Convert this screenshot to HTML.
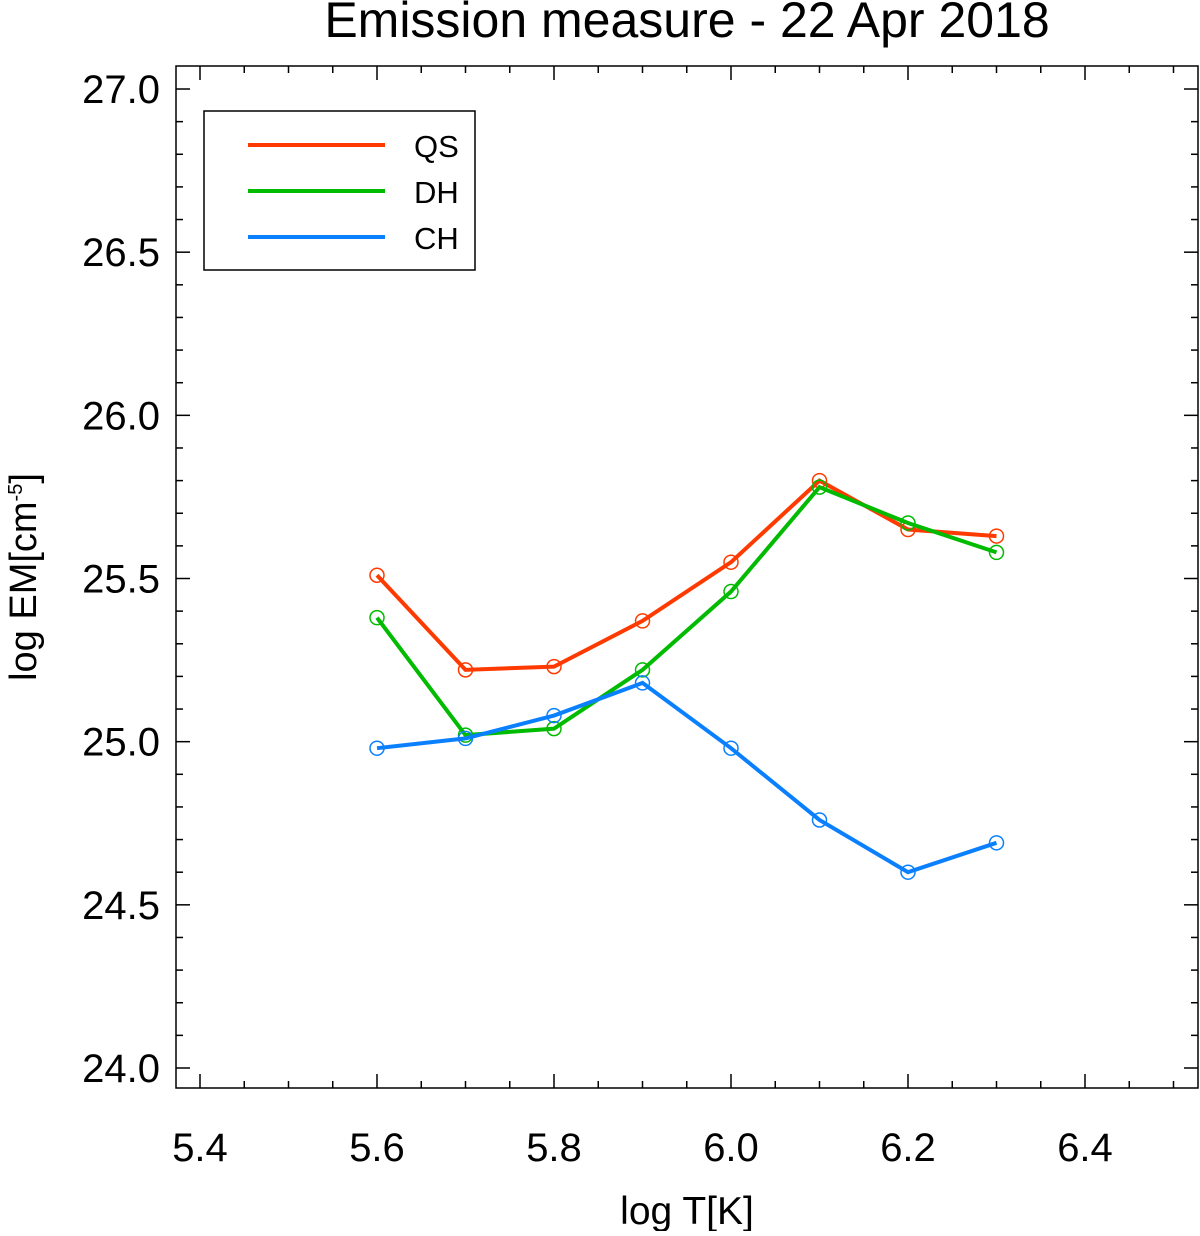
<!DOCTYPE html>
<html><head><meta charset="utf-8"><style>
body{margin:0;background:#fff}
text{font-family:"Liberation Sans",sans-serif;fill:#000}
</style></head><body>
<svg id="chart" width="1200" height="1231" xmlns="http://www.w3.org/2000/svg">
<text x="687" y="37" font-size="50" text-anchor="middle">Emission measure - 22 Apr 2018</text>
<rect x="176" y="66" width="1022" height="1022" fill="none" stroke="#000" stroke-width="1.5"/>
<g id="ticks"></g>
<g id="series"></g>
<text x="687" y="1224" font-size="39" text-anchor="middle">log T[K]</text>
<text transform="translate(36,577) rotate(-90)" font-size="38" text-anchor="middle">log EM[cm<tspan font-size="20" dy="-14">-5</tspan><tspan dy="14">]</tspan></text>
<g>
<rect x="204" y="111" width="271" height="159" fill="#fff" stroke="#000" stroke-width="1.5"/>
<line x1="248" y1="145" x2="385" y2="145" stroke="#ff3a00" stroke-width="4"/>
<text x="414" y="157" font-size="31">QS</text>
<line x1="248" y1="191" x2="385" y2="191" stroke="#00bb00" stroke-width="4"/>
<text x="414" y="203" font-size="31">DH</text>
<line x1="248" y1="237" x2="385" y2="237" stroke="#0a80ff" stroke-width="4"/>
<text x="414" y="249" font-size="31">CH</text>
</g>
</svg>
<script>
const temps=[5.6,5.7,5.8,5.9,6.0,6.1,6.2,6.3];
const qsValues=[25.51,25.22,25.23,25.37,25.55,25.80,25.65,25.63];
const dhValues=[25.38,25.02,25.04,25.22,25.46,25.78,25.67,25.58];
const chValues=[24.98,25.01,25.08,25.18,24.98,24.76,24.60,24.69];
const xTickLabels=["5.4","5.6","5.8","6.0","6.2","6.4"];
const yTickLabels=["24.0","24.5","25.0","25.5","26.0","26.5","27.0"];
const NS='http://www.w3.org/2000/svg';
const X=v=>200+(v-5.4)*885;
const Y=v=>1068-(v-24)*326.33;
function mk(tag,attrs,parent){const e=document.createElementNS(NS,tag);for(const k in attrs)e.setAttribute(k,attrs[k]);parent.appendChild(e);return e;}
const tg=document.getElementById('ticks');
for(let i=0;i<=23;i++){const v=5.4+i*0.05-0.05;const x=X(v);if(x<177||x>1197)continue;const L=(Math.round(v*100)%20===0)?14:7;
const t1=mk('line',{x1:x,y1:1088,x2:x,y2:1088-L,stroke:'#000','stroke-width':1.5},tg);

const t2=mk('line',{x1:x,y1:66,x2:x,y2:66+L,stroke:'#000','stroke-width':1.5},tg);
}
xTickLabels.forEach(s=>{const t=mk('text',{x:X(+s),y:1161,'font-size':40,'text-anchor':'middle'},tg);t.textContent=s;
});
for(let i=-1;i<=31;i++){const v=24+i*0.1;const y=Y(v);if(y<67||y>1087)continue;const L=(i%5===0)?14:7;
const t1=mk('line',{x1:176,y1:y,x2:176+L,y2:y,stroke:'#000','stroke-width':1.5},tg);

const t2=mk('line',{x1:1198,y1:y,x2:1198-L,y2:y,stroke:'#000','stroke-width':1.5},tg);
}
yTickLabels.forEach(s=>{const t=mk('text',{x:160,y:Y(+s)+14,'font-size':40,'text-anchor':'end'},tg);t.textContent=s;
});
const sg=document.getElementById('series');
[[qsValues,'#ff3a00','qs'],[dhValues,'#00bb00','dh'],[chValues,'#0a80ff','ch']].forEach(([vals,c,n])=>{
const p=mk('polyline',{points:vals.map((v,i)=>X(temps[i])+','+Y(v)).join(' '),fill:'none',stroke:c,'stroke-width':4},sg);

vals.forEach((v,i)=>{const ci=mk('circle',{cx:X(temps[i]),cy:Y(v),r:7,fill:'none',stroke:c,'stroke-width':1.5},sg);
});});
</script>
</body></html>
